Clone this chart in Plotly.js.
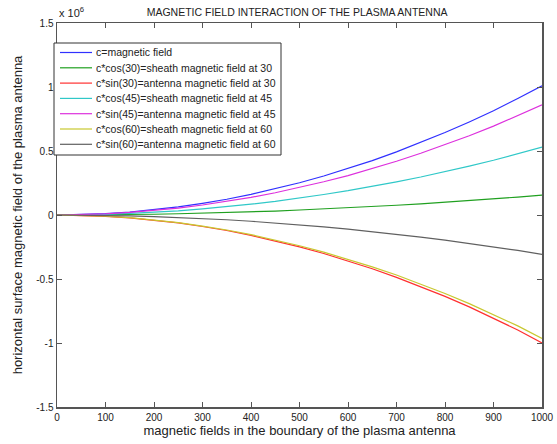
<!DOCTYPE html>
<html>
<head>
<meta charset="utf-8">
<script src="https://cdn.plot.ly/plotly-3.0.1.min.js"></script>
<style>html,body{margin:0;padding:0;background:#fff;}#chart{width:557px;height:444px;}</style>
</head>
<body>
<div id="chart"></div>
<script>
var xVals = [0,50,100,150,200,250,300,350,400,450,500,550,600,650,700,750,800,850,900,950,1000];
var cField = [0,3000,10000,23000,41000,63000,91000,123000,161000,204000,252000,305000,362000,425000,493000,566000,644000,727000,815000,910000,1010000];
var cosSheath30 = [0,400,1500,3500,6000,9700,14000,19000,25000,31000,39000,47000,56000,65000,76000,87000,99000,112000,125000,140000,155000];
var sinAntenna30 = [0,-2500,-10000,-22000,-40000,-62000,-90000,-121000,-159000,-201000,-249000,-301000,-358000,-420000,-487000,-559000,-636000,-718000,-805000,-898000,-1000000];
var cosSheath45 = [0,1000,5000,12000,22000,33000,48000,65000,85000,107000,132000,160000,190000,223000,259000,297000,338000,382000,428000,478000,530000];
var sinAntenna45 = [0,2000,9000,20000,35000,54000,78000,105000,137000,174000,215000,260000,308000,362000,420000,482000,548000,619000,694000,775000,860000];
var cosSheath60 = [0,-2400,-9500,-21000,-39000,-60000,-87000,-117000,-153000,-194000,-240000,-290000,-345000,-405000,-469000,-539000,-613000,-692000,-776000,-866000,-965000];
var sinAntenna60 = [0,-800,-3000,-7000,-12000,-19000,-28000,-37000,-49000,-62000,-77000,-93000,-110000,-130000,-150000,-173000,-196000,-222000,-249000,-277000,-308000];

var seriesNames = [
  "c=magnetic field",
  "c*cos(30)=sheath magnetic field at 30",
  "c*sin(30)=antenna magnetic field at 30",
  "c*cos(45)=sheath magnetic field at 45",
  "c*sin(45)=antenna magnetic field at 45",
  "c*cos(60)=sheath magnetic field at 60",
  "c*sin(60)=antenna magnetic field at 60"
];
var seriesData = [cField, cosSheath30, sinAntenna30, cosSheath45, sinAntenna45, cosSheath60, sinAntenna60];
var seriesColors = ["#3030ff","#20a020","#ff3030","#30c8c8","#dd30dd","#c8c830","#606060"];

var yTickVals = [-1500000,-1000000,-500000,0,500000,1000000,1500000];
var yTickText = ["-1.5","-1","-0.5","0","0.5","1","1.5"];
var xTickVals = [0,100,200,300,400,500,600,700,800,900,1000];

var traces = seriesData.map(function(d,i){
  return {x:xVals, y:d, type:"scatter", mode:"lines", name:seriesNames[i],
          line:{color:seriesColors[i], width:1.2}, showlegend:false};
});

// plot area geometry in pixels (for the hand-drawn legend box)
var PL = 57, PR = 542, PT = 23, PB = 407;
function px2x(p){ return (p - PL) / (PR - PL); }
function px2y(p){ return (PB - p) / (PB - PT); }

var shapes = [{type:"rect", xref:"paper", yref:"paper",
  x0:px2x(54), x1:px2x(281), y0:px2y(155), y1:px2y(43),
  fillcolor:"#fff", line:{color:"#333", width:1}, layer:"above"}];
var annotations = [{xref:"paper", yref:"paper", x:0.0, y:1.0, xanchor:"left", yanchor:"bottom", yshift:2,
    text:"x 10<sup>6</sup>", showarrow:false,
    font:{family:"Liberation Sans, Arial, sans-serif", size:11, color:"#222"}}];
seriesNames.forEach(function(n,i){
  var yy = 52.5 + i*15.3;
  shapes.push({type:"line", xref:"paper", yref:"paper", x0:px2x(60), x1:px2x(92), y0:px2y(yy), y1:px2y(yy),
    line:{color:seriesColors[i], width:1.2}, layer:"above"});
  annotations.push({xref:"paper", yref:"paper", x:px2x(94), y:px2y(yy), xanchor:"left", yanchor:"middle",
    text:n, showarrow:false, font:{family:"Liberation Sans, Arial, sans-serif", size:10.5, color:"#222"}});
});

var axisCommon = {showgrid:false, zeroline:false, showline:true, linecolor:"#555", linewidth:1.5,
  mirror:"ticks", ticks:"inside", ticklen:5, tickcolor:"#555",
  tickfont:{family:"Liberation Sans, Arial, sans-serif", size:10, color:"#222"}};

var layout = {
  width:557, height:444,
  margin:{l:57, r:15, t:23, b:37, pad:0},
  paper_bgcolor:"#fff", plot_bgcolor:"#fff",
  title:{text:"MAGNETIC FIELD INTERACTION OF THE PLASMA ANTENNA",
         font:{family:"Liberation Sans, Arial, sans-serif", size:10.5, color:"#222"},
         xref:"paper", x:0.495, xanchor:"center", y:0.972, yanchor:"middle"},
  xaxis:Object.assign({}, axisCommon, {range:[0,1000], tickvals:xTickVals,
    title:{text:"magnetic fields in the boundary of the plasma antenna", standoff:4,
      font:{family:"Liberation Sans, Arial, sans-serif", size:13, color:"#222"}}}),
  yaxis:Object.assign({}, axisCommon, {range:[-1500000,1500000], tickvals:yTickVals, ticktext:yTickText,
    title:{text:"horizontal surface magnetic field of the plasma antenna", standoff:10,
      font:{family:"Liberation Sans, Arial, sans-serif", size:13, color:"#222"}}}),
  showlegend:false,
  shapes:shapes,
  annotations:annotations
};

Plotly.newPlot("chart", traces, layout, {staticPlot:true, displayModeBar:false});
</script>
</body>
</html>
